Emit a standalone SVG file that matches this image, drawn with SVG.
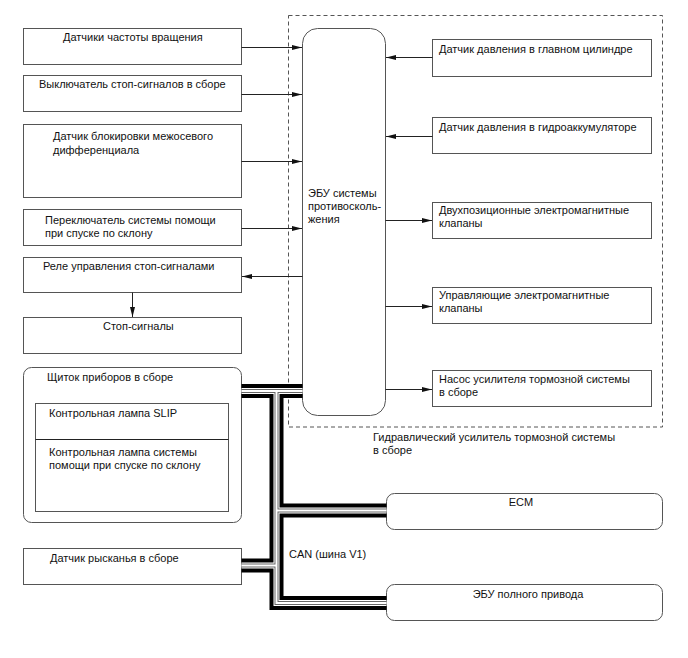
<svg xmlns="http://www.w3.org/2000/svg" xmlns:xlink="http://www.w3.org/1999/xlink" width="688" height="658" viewBox="0 0 688 658">
<style>
text{font-family:"Liberation Sans",Arial,sans-serif;font-size:11px;fill:#111}
.box{fill:#fff;stroke:#555;stroke-width:1}
.ln{stroke:#222;stroke-width:1;fill:none}
.dash{fill:none;stroke:#555;stroke-width:1;stroke-dasharray:4 3}
.mid{text-anchor:middle}
.b1{fill:none;stroke:#000;stroke-width:14;stroke-linejoin:miter}
.b2{fill:none;stroke:#fff;stroke-width:6;stroke-linejoin:miter}
.b3{fill:none;stroke:#666;stroke-width:4;stroke-linejoin:miter}
.b4{fill:none;stroke:#fff;stroke-width:2;stroke-linejoin:miter}
</style>
<defs>
<marker id="ah" viewBox="0 0 10 6" refX="10" refY="3" markerWidth="10" markerHeight="6" markerUnits="userSpaceOnUse" orient="auto">
<path d="M0,0.5 L10,3 L0,5.5 Z" fill="#111"/>
</marker>
<path id="p1" d="M241.5,391 H302.5"/>
<path id="p2" d="M276.5,391 V603 H386.5"/>
<path id="p3" d="M276.5,510.5 H386.5"/>
<path id="p4" d="M241.5,565.5 H276.5"/>
</defs>
<rect width="688" height="658" fill="#fff"/>

<rect class="dash" x="288.5" y="15.5" width="374" height="411.5"/>

<g id="n-speed"><rect class="box" x="23.5" y="28.5" width="218" height="36"/><text x="63" y="41">Датчики частоты вращения</text></g>
<g id="n-stopsw"><rect class="box" x="23.5" y="75.5" width="218" height="36"/><text x="39" y="88">Выключатель стоп-сигналов в сборе</text></g>
<g id="n-lock"><rect class="box" x="23.5" y="124.5" width="218" height="73"/><text x="53" y="140">Датчик блокировки межосевого</text><text x="53" y="154">дифференциала</text></g>
<g id="n-hdc"><rect class="box" x="23.5" y="209.5" width="218" height="36"/><text x="45" y="224">Переключатель системы помощи</text><text x="45" y="237">при спуске по склону</text></g>
<g id="n-relay"><rect class="box" x="23.5" y="257.5" width="218" height="35"/><text x="43" y="270">Реле управления стоп-сигналами</text></g>
<g id="n-stoplamp"><rect class="box" x="23.5" y="317.5" width="218" height="36"/><text x="103" y="330">Стоп-сигналы</text></g>
<g id="n-cluster"><rect class="box" x="23.5" y="367.5" width="218" height="155" rx="8"/><text x="47" y="381">Щиток приборов в сборе</text>
<rect class="box" x="35.5" y="403.5" width="193" height="108"/><line class="ln" x1="35.5" y1="439.5" x2="228.5" y2="439.5" stroke="#555"/>
<text x="49" y="417">Контрольная лампа SLIP</text><text x="49" y="456">Контрольная лампа системы</text><text x="49" y="469">помощи при спуске по склону</text></g>
<g id="n-yaw"><rect class="box" x="23.5" y="548.5" width="218" height="36"/><text x="50" y="562">Датчик рысканья в сборе</text></g>

<g id="n-ecu"><rect class="box" x="302.5" y="28.5" width="83" height="387" rx="15"/><text x="308" y="197">ЭБУ системы</text><text x="308" y="210">противосколь-</text><text x="308" y="223">жения</text></g>

<g id="n-mc"><rect class="box" x="432.5" y="39.5" width="219" height="37"/><text x="439" y="53">Датчик давления в главном цилиндре</text></g>
<g id="n-acc"><rect class="box" x="432.5" y="117.5" width="219" height="36"/><text x="439" y="131">Датчик давления в гидроаккумуляторе</text></g>
<g id="n-sol2"><rect class="box" x="432.5" y="202.5" width="219" height="36"/><text x="439" y="214">Двухпозиционные электромагнитные</text><text x="439" y="227">клапаны</text></g>
<g id="n-solc"><rect class="box" x="432.5" y="287.5" width="219" height="36"/><text x="439" y="299">Управляющие электромагнитные</text><text x="439" y="312">клапаны</text></g>
<g id="n-pump"><rect class="box" x="432.5" y="370.5" width="219" height="36"/><text x="439" y="383">Насос усилителя тормозной системы</text><text x="439" y="396">в сборе</text></g>

<g id="n-hyd"><text x="373" y="441">Гидравлический усилитель тормозной системы</text><text x="373" y="454">в сборе</text></g>

<g id="n-ecm"><rect class="box" x="386.5" y="493.5" width="276" height="36" rx="8"/><text class="mid" x="521" y="506">ECM</text></g>
<g id="n-4wd"><rect class="box" x="386.5" y="584.5" width="276" height="36" rx="8"/><text class="mid" x="528" y="598">ЭБУ полного привода</text></g>

<g id="connectors">
<line class="ln" x1="241.5" y1="47.5" x2="302" y2="47.5" marker-end="url(#ah)"/>
<line class="ln" x1="241.5" y1="94.5" x2="302" y2="94.5" marker-end="url(#ah)"/>
<line class="ln" x1="241.5" y1="161.5" x2="302" y2="161.5" marker-end="url(#ah)"/>
<line class="ln" x1="241.5" y1="228.5" x2="302" y2="228.5" marker-end="url(#ah)"/>
<line class="ln" x1="302.5" y1="276.5" x2="242" y2="276.5" marker-end="url(#ah)"/>
<line class="ln" x1="132.5" y1="292.5" x2="132.5" y2="317" marker-end="url(#ah)"/>
<line class="ln" x1="432.5" y1="57.5" x2="386" y2="57.5" marker-end="url(#ah)"/>
<line class="ln" x1="432.5" y1="136.5" x2="386" y2="136.5" marker-end="url(#ah)"/>
<line class="ln" x1="385.5" y1="220.5" x2="432" y2="220.5" marker-end="url(#ah)"/>
<line class="ln" x1="385.5" y1="306.5" x2="432" y2="306.5" marker-end="url(#ah)"/>
<line class="ln" x1="385.5" y1="389.5" x2="432" y2="389.5" marker-end="url(#ah)"/>
<g id="can-bus">
<use xlink:href="#p1" class="b1"/><use xlink:href="#p2" class="b1"/><use xlink:href="#p3" class="b1"/><use xlink:href="#p4" class="b1"/>
<use xlink:href="#p1" class="b2"/><use xlink:href="#p2" class="b2"/><use xlink:href="#p3" class="b2"/><use xlink:href="#p4" class="b2"/>
<use xlink:href="#p1" class="b3"/><use xlink:href="#p2" class="b3"/><use xlink:href="#p3" class="b3"/><use xlink:href="#p4" class="b3"/>
<use xlink:href="#p1" class="b4"/><use xlink:href="#p2" class="b4"/><use xlink:href="#p3" class="b4"/><use xlink:href="#p4" class="b4"/>
</g>
</g>
<text x="289" y="558">CAN (шина V1)</text>
</svg>
